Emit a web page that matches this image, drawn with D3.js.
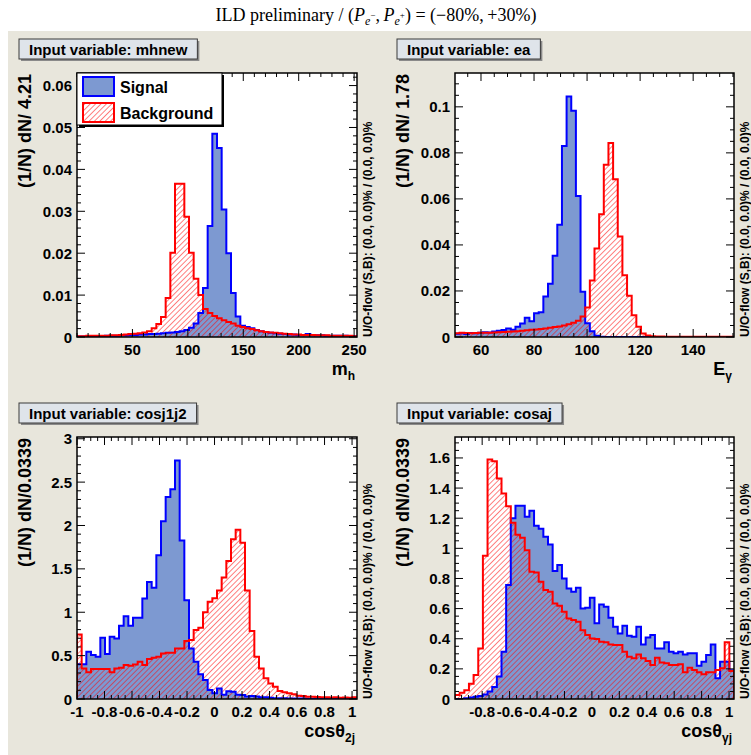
<!DOCTYPE html>
<html>
<head>
<meta charset="utf-8">
<script src="https://cdn.jsdelivr.net/npm/d3@7"></script>
<style>
  body { margin: 0; background: #ffffff; }
  svg { display: block; font-family: "Liberation Sans", Arial, Helvetica, sans-serif; }
</style>
</head>
<body>
<svg id="chart" width="751" height="755"></svg>
<script>
// ---- data: 60 bins per histogram ----
var mhnewSignal = [
  0.0001,0.0001,0.0001,0.0002,0.0002,0.0002,0.0003,0.0003,0.0003,0.0004,
  0.0004,0.0005,0.0005,0.0006,0.0006,0.0007,0.0007,0.0008,0.0009,0.0010,
  0.0011,0.0012,0.0014,0.0017,0.0022,0.0032,0.0057,0.0117,0.0265,0.0485,
  0.0451,0.0304,0.0200,0.0105,0.0049,0.0027,0.0024,0.0021,0.0017,0.0014,
  0.0012,0.0010,0.0009,0.0008,0.0007,0.0006,0.0006,0.0005,0.0005,0.0007,
  0.0004,0.0004,0.0004,0.0003,0.0003,0.0003,0.0003,0.0003,0.0002,0.0002];
var mhnewBackground = [
  0.0002,0.0002,0.0003,0.0003,0.0003,0.0003,0.0003,0.0004,0.0004,0.0005,
  0.0006,0.0007,0.0008,0.0009,0.0011,0.0014,0.0021,0.0031,0.0048,0.0093,
  0.0201,0.0366,0.0366,0.0287,0.0201,0.0139,0.0100,0.0067,0.0057,0.0050,
  0.0045,0.0040,0.0036,0.0032,0.0027,0.0024,0.0021,0.0019,0.0016,0.0014,
  0.0012,0.0011,0.0010,0.0009,0.0008,0.0007,0.0006,0.0006,0.0005,0.0005,
  0.0005,0.0004,0.0004,0.0004,0.0003,0.0003,0.0003,0.0003,0.0003,0.0002];

var eaSignal = [
  0.0014,0.0016,0.0013,0.0017,0.0016,0.0019,0.0021,0.0020,0.0024,0.0027,
  0.0030,0.0037,0.0032,0.0044,0.0059,0.0084,0.0068,0.0103,0.0108,0.0176,
  0.0231,0.0353,0.0488,0.0830,0.1045,0.0983,0.0613,0.0197,0.0060,0.0025,
  0.0005,0.0001,0,0,0,0,0,0,0,0,
  0,0,0,0,0,0,0,0,0,0,
  0,0,0,0,0,0,0,0,0,0];
var eaBackground = [
  0.0016,0.0018,0.0017,0.0016,0.0017,0.0018,0.0019,0.0019,0.0020,0.0021,
  0.0022,0.0023,0.0024,0.0025,0.0027,0.0029,0.0031,0.0033,0.0035,0.0037,
  0.0040,0.0043,0.0046,0.0050,0.0055,0.0062,0.0071,0.0089,0.0128,0.0246,
  0.0385,0.0533,0.0748,0.0843,0.0685,0.0437,0.0268,0.0179,0.0095,0.0045,
  0.0015,0.0006,0.0003,0.0002,0.0002,0.0001,0.0001,0.0001,0.0001,0.0001,
  0.0001,0.0001,0.0001,0.0001,0.0001,0.0001,0.0001,0.0001,0.0001,0.0001];

var cosj1j2Signal = [
  0.400,0.400,0.544,0.506,0.487,0.706,0.518,0.717,0.698,0.843,
  0.955,0.843,0.936,0.936,1.158,1.350,1.281,1.657,2.048,2.328,
  2.417,2.750,1.826,1.139,0.583,0.430,0.284,0.219,0.104,0.066,
  0.120,0.050,0.090,0.085,0.050,0.045,0.030,0.035,0.030,0.020,
  0.020,0.015,0.010,0.008,0.008,0.006,0.006,0.005,0.005,0.004,
  0.004,0.004,0.003,0.003,0.003,0.003,0.002,0.002,0.002,0.002];
var cosj1j2Background = [
  0.744,0.353,0.307,0.345,0.345,0.345,0.345,0.307,0.353,0.360,
  0.391,0.384,0.399,0.430,0.391,0.461,0.476,0.487,0.525,0.533,
  0.533,0.583,0.583,0.668,0.679,0.794,0.821,1.000,1.120,1.160,
  1.250,1.400,1.590,1.840,1.950,1.800,1.250,0.783,0.487,0.353,
  0.238,0.180,0.142,0.092,0.077,0.065,0.054,0.038,0.035,0.027,
  0.025,0.022,0.020,0.020,0.018,0.020,0.015,0.018,0.015,0.020];

var cosajSignal = [
  0.000,0.000,0.005,0.010,0.015,0.020,0.030,0.050,0.080,0.150,
  0.314,0.756,1.200,1.282,1.282,1.210,1.250,1.150,1.130,1.077,
  1.026,0.850,0.889,0.800,0.734,0.712,0.738,0.601,0.606,0.672,
  0.502,0.628,0.612,0.539,0.479,0.435,0.486,0.420,0.413,0.479,
  0.362,0.409,0.424,0.336,0.336,0.376,0.314,0.303,0.314,0.296,
  0.303,0.303,0.221,0.248,0.292,0.362,0.137,0.248,0.248,0.190];
var cosajBackground = [
  0.027,0.042,0.058,0.102,0.159,0.336,0.951,1.590,1.578,1.463,
  1.364,1.280,1.170,1.090,1.070,0.988,0.845,0.840,0.778,0.723,
  0.712,0.634,0.619,0.579,0.535,0.524,0.513,0.457,0.424,0.402,
  0.398,0.380,0.376,0.362,0.358,0.358,0.314,0.281,0.270,0.296,
  0.270,0.252,0.226,0.274,0.243,0.237,0.226,0.226,0.230,0.177,
  0.208,0.193,0.177,0.164,0.177,0.177,0.193,0.204,0.376,0.186];

// axis ranges and tick labels
var mhnewRange = [0, 252.6], mhnewMax = 0.063;
var eaRange = [50.2, 155.4], eaMax = 0.1147;
var cosj1j2Range = [-1, 1.036], cosj1j2Max = 3.02;
var cosajRange = [-0.998, 1.036], cosajMax = 1.739;

var mhnewXTicks = [50, 100, 150, 200, 250];
var mhnewYTicks = [0, 0.01, 0.02, 0.03, 0.04, 0.05, 0.06];
var eaXTicks = [60, 80, 100, 120, 140];
var eaYTicks = [0, 0.02, 0.04, 0.06, 0.08, 0.1];
var cosj1j2XTicks = [-1, -0.8, -0.6, -0.4, -0.2, 0, 0.2, 0.4, 0.6, 0.8, 1];
var cosj1j2YTicks = [0, 0.5, 1, 1.5, 2, 2.5, 3];
var cosajXTicks = [-0.8, -0.6, -0.4, -0.2, 0, 0.2, 0.4, 0.6, 0.8, 1];
var cosajYTicks = [0, 0.2, 0.4, 0.6, 0.8, 1, 1.2, 1.4, 1.6];

var legendLabels = ["Signal", "Background"];
var overflowText = "U/O-flow (S,B): (0.0, 0.0)% / (0.0, 0.0)%";

var sigFill = "#7d99d1", sigLine = "#0000ff", bkgLine = "#ff0000";

var svg = d3.select("#chart");

// canvas background (white title strip on top)
svg.append("rect").attr("x", 8).attr("y", 31).attr("width", 743).attr("height", 724)
    .attr("fill", "#e8e6dc");

var defs = svg.append("defs");
defs.append("pattern")
    .attr("id", "hatch")
    .attr("patternUnits", "userSpaceOnUse")
    .attr("width", 3.8).attr("height", 3.8)
    .attr("patternTransform", "rotate(45)")
  .append("line")
    .attr("x1", 0).attr("y1", 0).attr("x2", 0).attr("y2", 3.8)
    .attr("stroke", bkgLine).attr("stroke-width", 1);

// title
var title = svg.append("text")
    .attr("x", 376).attr("y", 21)
    .attr("text-anchor", "middle")
    .style("font-family", "'Liberation Serif','DejaVu Serif',serif")
    .style("font-size", "18px");
title.append("tspan").text("ILD preliminary / (");
title.append("tspan").style("font-style", "italic").text("P");
title.append("tspan").attr("dy", 4).style("font-size", "12px").style("font-style", "italic").text("e");
title.append("tspan").attr("dy", -7).style("font-size", "9px").text("\u2212");
title.append("tspan").attr("dy", 3).text(",\u2009");
title.append("tspan").style("font-style", "italic").text("P");
title.append("tspan").attr("dy", 4).style("font-size", "12px").style("font-style", "italic").text("e");
title.append("tspan").attr("dy", -7).style("font-size", "9px").text("+");
title.append("tspan").attr("dy", 3).text(") = (\u221280%,\u2009+30%)");

var panels = [
  { label: "Input variable: mhnew", box: [19, 39], frame: [77, 73, 280, 264],
    range: mhnewRange, ymax: mhnewMax, sig: mhnewSignal, bkg: mhnewBackground,
    xTicks: mhnewXTicks, xMinor: 10, yTicks: mhnewYTicks, yMinor: 0.002,
    yTitle: "(1/N) dN/ 4.21", xTitle: ["m", "h"], legend: true },
  { label: "Input variable: ea", box: [397, 39], frame: [455, 73, 279, 264],
    range: eaRange, ymax: eaMax, sig: eaSignal, bkg: eaBackground,
    xTicks: eaXTicks, xMinor: 5, yTicks: eaYTicks, yMinor: 0.005,
    yTitle: "(1/N) dN/ 1.78", xTitle: ["E", "\u03b3"] },
  { label: "Input variable: cosj1j2", box: [19, 403], frame: [77, 437, 280, 262],
    range: cosj1j2Range, ymax: cosj1j2Max, sig: cosj1j2Signal, bkg: cosj1j2Background,
    xTicks: cosj1j2XTicks, xMinor: 0.05, yTicks: cosj1j2YTicks, yMinor: 0.1,
    yTitle: "(1/N) dN/0.0339", xTitle: ["cos\u03b8", "2j"] },
  { label: "Input variable: cosaj", box: [397, 403], frame: [455, 437, 279, 262],
    range: cosajRange, ymax: cosajMax, sig: cosajSignal, bkg: cosajBackground,
    xTicks: cosajXTicks, xMinor: 0.05, yTicks: cosajYTicks, yMinor: 0.05,
    yTitle: "(1/N) dN/0.0339", xTitle: ["cos\u03b8", "\u03b3j"] }
];

function fmt(v) {
  if (Math.abs(v) < 1e-9) return "0";
  return String(+v.toFixed(4));
}

function minorRange(lo, hi, step) {
  var out = [];
  var start = Math.ceil(lo / step - 1e-6);
  for (var k = start; k * step <= hi + 1e-9; k++) out.push(k * step);
  return out;
}

// step outline of a histogram (ROOT "hist" style)
function histPath(values, x, y, lo, hi) {
  var n = values.length, w = (hi - lo) / n;
  var p = d3.path();
  p.moveTo(x(lo), y(0));
  values.forEach(function(v, i) {
    p.lineTo(x(lo + i * w), y(v));
    p.lineTo(x(lo + (i + 1) * w), y(v));
  });
  p.lineTo(x(hi), y(0));
  return p.toString();
}

panels.forEach(function(P, idx) {
  var fx = P.frame[0], fy = P.frame[1], fw = P.frame[2], fh = P.frame[3];
  var g = svg.append("g");

  var x = d3.scaleLinear().domain(P.range).range([fx, fx + fw]);
  var y = d3.scaleLinear().domain([0, P.ymax]).range([fy + fh, fy]);

  // label box
  var bx = P.box[0], by = P.box[1];
  var lt = g.append("text").attr("x", bx + 10).attr("y", by + 10)
      .attr("dominant-baseline", "central")
      .style("font-weight", "bold").style("font-size", "15px")
      .text(P.label);
  var tw = lt.node().getComputedTextLength();
  g.insert("rect", "text").attr("x", bx + 2).attr("y", by + 2).attr("width", tw + 20).attr("height", 20)
      .attr("fill", "#8a8a8a");
  g.insert("rect", "text").attr("x", bx).attr("y", by).attr("width", tw + 20).attr("height", 20)
      .attr("fill", "#dfe4ea").attr("stroke", "#3a3a3a").attr("stroke-width", 1);

  // frame
  g.append("rect").attr("x", fx).attr("y", fy).attr("width", fw).attr("height", fh).attr("fill", "#ffffff");

  var clipId = "clip" + idx;
  defs.append("clipPath").attr("id", clipId)
    .append("rect").attr("x", fx).attr("y", fy).attr("width", fw).attr("height", fh);
  var h = g.append("g").attr("clip-path", "url(#" + clipId + ")");

  var sp = histPath(P.sig, x, y, P.range[0], P.range[1]);
  var bp = histPath(P.bkg, x, y, P.range[0], P.range[1]);
  h.append("path").attr("d", sp + "Z").attr("fill", sigFill).attr("stroke", "none");
  h.append("path").attr("d", bp + "Z").attr("fill", "url(#hatch)").attr("stroke", "none");
  h.append("path").attr("d", sp).attr("fill", "none").attr("stroke", sigLine).attr("stroke-width", 2);
  h.append("path").attr("d", bp).attr("fill", "none").attr("stroke", bkgLine).attr("stroke-width", 2);

  g.append("rect").attr("x", fx).attr("y", fy).attr("width", fw).attr("height", fh)
      .attr("fill", "none").attr("stroke", "#000").attr("stroke-width", 1.5);

  // ticks on all four sides, pointing inward
  var ticks = g.append("g").attr("stroke", "#000").attr("stroke-width", 1);
  var xMin = minorRange(P.range[0], P.range[1], P.xMinor);
  var yMin = minorRange(0, P.ymax, P.yMinor);
  function isMajor(v, list) { return list.some(function(t) { return Math.abs(t - v) < 1e-6; }); }
  xMin.forEach(function(v) {
    var L = isMajor(v, P.xTicks) ? 8 : 4, px = x(v);
    ticks.append("line").attr("x1", px).attr("x2", px).attr("y1", fy + fh).attr("y2", fy + fh - L);
    ticks.append("line").attr("x1", px).attr("x2", px).attr("y1", fy).attr("y2", fy + L);
  });
  yMin.forEach(function(v) {
    var L = isMajor(v, P.yTicks) ? 8 : 4, py = y(v);
    ticks.append("line").attr("y1", py).attr("y2", py).attr("x1", fx).attr("x2", fx + L);
    ticks.append("line").attr("y1", py).attr("y2", py).attr("x1", fx + fw).attr("x2", fx + fw - L);
  });

  // tick labels
  P.xTicks.forEach(function(v) {
    g.append("text").attr("x", x(v)).attr("y", fy + fh + 18)
      .attr("text-anchor", "middle")
      .style("font-weight", "bold").style("font-size", "15px")
      .text(fmt(v));
  });
  P.yTicks.forEach(function(v) {
    g.append("text").attr("x", fx - 5).attr("y", y(v))
      .attr("text-anchor", "end").attr("dominant-baseline", "central")
      .style("font-weight", "bold").style("font-size", "15px")
      .text(fmt(v));
  });

  // axis titles
  g.append("text")
    .attr("transform", "translate(" + (fx - 52) + "," + (fy + 1) + ") rotate(-90)")
    .attr("text-anchor", "end").attr("dominant-baseline", "central")
    .style("font-weight", "bold").style("font-size", "18px")
    .text(P.yTitle);

  var xt = g.append("text").attr("x", fx + fw - 2).attr("y", fy + fh + 38)
    .attr("text-anchor", "end")
    .style("font-weight", "bold").style("font-size", "18px");
  xt.append("tspan").text(P.xTitle[0]);
  xt.append("tspan").attr("dy", 5).style("font-size", "12px").text(P.xTitle[1]);

  g.append("text")
    .attr("transform", "translate(" + (fx + fw + 10.5) + "," + (fy + fh) + ") rotate(-90)")
    .attr("text-anchor", "start").attr("dominant-baseline", "central")
    .style("font-weight", "bold").style("font-size", "12px")
    .text(overflowText);

  // legend (first panel only)
  if (P.legend) {
    var lx = fx, ly = fy, lw = 145, lh = 52;
    g.append("rect").attr("x", lx + 2).attr("y", ly + 2).attr("width", lw).attr("height", lh).attr("fill", "#000");
    g.append("rect").attr("x", lx).attr("y", ly).attr("width", lw).attr("height", lh)
      .attr("fill", "#fff").attr("stroke", "#000").attr("stroke-width", 1);
    var fills = [sigFill, "url(#hatch)"], lines = [sigLine, bkgLine];
    legendLabels.forEach(function(name, i) {
      var ey = ly + 4 + i * 26;
      g.append("rect").attr("x", lx + 6).attr("y", ey).attr("width", 31).attr("height", 19)
        .attr("fill", fills[i]).attr("stroke", lines[i]).attr("stroke-width", 2);
      g.append("text").attr("x", lx + 43).attr("y", ey + 10)
        .attr("dominant-baseline", "central")
        .style("font-weight", "bold").style("font-size", "16px")
        .text(name);
    });
  }
});
</script>
</body>
</html>
